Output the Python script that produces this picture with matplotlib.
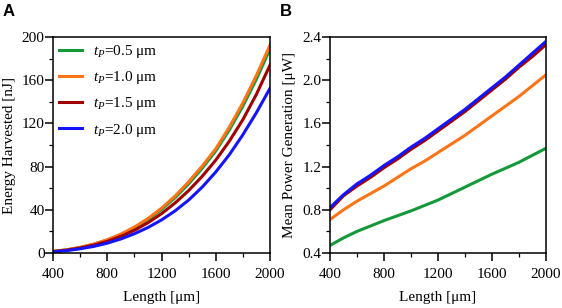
import matplotlib
matplotlib.use("Agg")
import matplotlib.pyplot as plt
from matplotlib.ticker import MultipleLocator, FormatStrFormatter

plt.rcParams['font.family'] = ['Liberation Serif', 'DejaVu Serif']
plt.rcParams['mathtext.fontset'] = 'custom'
plt.rcParams['mathtext.rm'] = 'Liberation Serif'
plt.rcParams['mathtext.it'] = 'Liberation Serif:italic'

length_um = [400, 500, 600, 700, 800, 900, 1000, 1100, 1200, 1300, 1400, 1500, 1600, 1700, 1800, 1900, 2000]

energy_05 = [1.5, 2.9, 5.1, 8.1, 12.0, 17.0, 23.3, 31.0, 40.3, 51.2, 64.0, 78.5, 94.5, 114.0, 136.0, 161.0, 189.0]
energy_10 = [1.5, 3.0, 5.2, 8.2, 12.3, 17.5, 24.0, 31.9, 41.5, 52.7, 65.9, 80.5, 96.5, 116.5, 139.0, 164.5, 192.5]
energy_15 = [1.3, 2.6, 4.6, 7.3, 10.8, 15.4, 21.0, 28.0, 36.4, 46.3, 57.8, 71.0, 86.0, 103.5, 123.5, 147.0, 174.0]
energy_20 = [1.1, 2.2, 3.9, 6.1, 9.1, 13.0, 17.8, 23.6, 30.6, 39.0, 49.0, 61.0, 75.0, 91.0, 109.5, 130.0, 152.5]

length_b = [400, 500, 600, 700, 800, 900, 1000, 1100, 1200, 1300, 1400, 1500, 1600, 1700, 1800, 1900, 2000]
power_05 = [0.47, 0.54, 0.60, 0.65, 0.70, 0.745, 0.79, 0.84, 0.89, 0.95, 1.01, 1.07, 1.13, 1.185, 1.24, 1.305, 1.37]
power_10 = [0.71, 0.80, 0.88, 0.95, 1.02, 1.10, 1.18, 1.25, 1.33, 1.41, 1.49, 1.58, 1.67, 1.76, 1.85, 1.95, 2.05]
power_15 = [0.80, 0.93, 1.02, 1.10, 1.19, 1.27, 1.36, 1.44, 1.53, 1.62, 1.71, 1.81, 1.91, 2.01, 2.12, 2.22, 2.33]
power_20 = [0.82, 0.94, 1.04, 1.12, 1.21, 1.29, 1.38, 1.46, 1.55, 1.64, 1.73, 1.83, 1.93, 2.03, 2.14, 2.25, 2.36]

labels = [r'$t_P$=0.5 μm', r'$t_P$=1.0 μm', r'$t_P$=1.5 μm', r'$t_P$=2.0 μm']
colors = ['#13993a', '#ff7417', '#a00000', '#1414ff']

FS = 11

fig = plt.figure(figsize=(5.62, 3.08), dpi=100)
axA = fig.add_axes([53/562, 1 - 253/308, 217/562, 216/308])
axB = fig.add_axes([330/562, 1 - 253/308, 216/562, 216/308])

for y, c, lab in zip([energy_05, energy_10, energy_15, energy_20], colors, labels):
    axA.plot(length_um, y, color=c, lw=2.2, label=lab)
for y, c in zip([power_05, power_10, power_15, power_20], colors):
    axB.plot(length_b, y, color=c, lw=2.2)

axA.set_xlim(400, 2000)
axA.set_ylim(0, 200)
axA.xaxis.set_major_locator(MultipleLocator(400))
axA.xaxis.set_minor_locator(MultipleLocator(200))
axA.yaxis.set_major_locator(MultipleLocator(40))
axA.yaxis.set_minor_locator(MultipleLocator(20))
axA.set_xlabel('Length [μm]', fontsize=FS, labelpad=7)
axA.set_ylabel('Energy Harvested [nJ]', fontsize=FS, labelpad=4)

axB.set_xlim(400, 2000)
axB.set_ylim(0.4, 2.4)
axB.xaxis.set_major_locator(MultipleLocator(400))
axB.xaxis.set_minor_locator(MultipleLocator(200))
axB.yaxis.set_major_locator(MultipleLocator(0.4))
axB.yaxis.set_minor_locator(MultipleLocator(0.2))
axB.yaxis.set_major_formatter(FormatStrFormatter('%.1f'))
axB.set_xlabel('Length [μm]', fontsize=FS, labelpad=7)
axB.set_ylabel('Mean Power Generation [μW]', fontsize=FS, labelpad=5)

for ax in (axA, axB):
    for s in ax.spines.values():
        s.set_linewidth(1.1)
    ax.tick_params(axis='x', which='major', direction='out', length=6, width=1.1, labelsize=FS, pad=5)
    ax.tick_params(axis='y', which='major', direction='out', length=5.5, width=1.1, labelsize=FS, pad=0.5)
    ax.tick_params(which='minor', direction='out', length=3, width=0.9)

axA.legend(loc='upper left', frameon=False, fontsize=FS, handlelength=1.5,
           borderaxespad=0.2, borderpad=0.2, labelspacing=0.6, handletextpad=0.7)

fig.text(3/562, 1 - 11/308, 'A', fontsize=12, fontweight='bold', family='Liberation Sans', va='center')
fig.text(280/562, 1 - 11/308, 'B', fontsize=12, fontweight='bold', family='Liberation Sans', va='center')

fig.savefig('out.png', dpi=100)
